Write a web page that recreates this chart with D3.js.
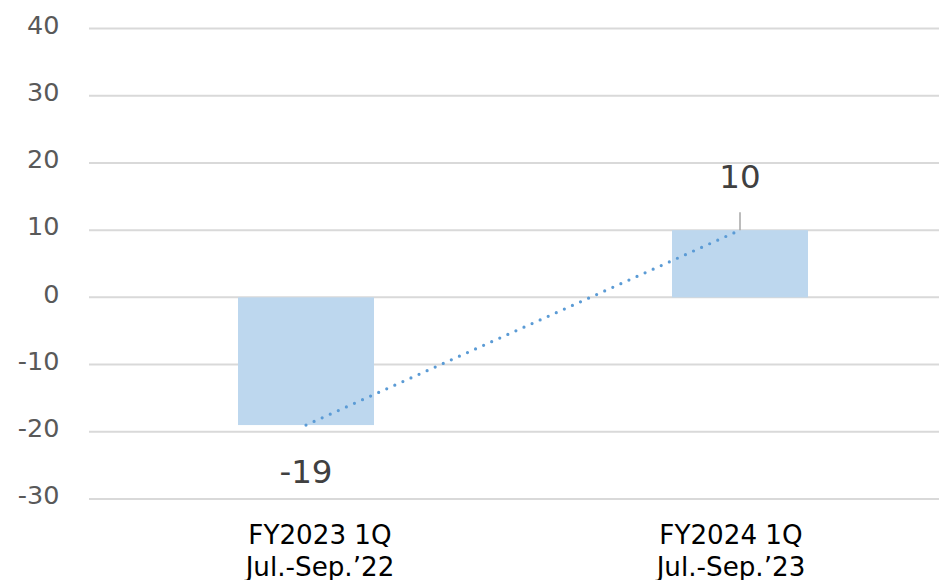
<!DOCTYPE html>
<html>
<head>
<meta charset="utf-8">
<script src="https://cdn.jsdelivr.net/npm/d3@7"></script>
<style>
  html, body { margin: 0; padding: 0; background: #fff; }
  svg { display: block; font-family: "DejaVu Sans", Verdana, sans-serif; }
</style>
</head>
<body>
<svg id="chart" width="939" height="580"></svg>
<script>
// Quarterly values
const categories = ["FY2023 1Q", "FY2024 1Q"];
const periods = ["Jul.-Sep.\u201922", "Jul.-Sep.\u201923"];
const values = [-19, 10];
const yTicks = [-30, -20, -10, 0, 10, 20, 30, 40];

const W = 939, H = 580;
const svg = d3.select("#chart");

const x = d3.scaleBand()
  .domain(categories)
  .range([89, 957])
  .paddingInner(0.6866)
  .paddingOuter(0.3433);

const y = d3.scaleLinear().domain([-30, 40]).range([499, 28.5]);

// Horizontal gridlines
svg.append("g")
  .selectAll("line")
  .data(yTicks)
  .join("line")
  .attr("x1", 89).attr("x2", W)
  .attr("y1", d => y(d)).attr("y2", d => y(d))
  .attr("stroke", "#d9d9d9")
  .attr("stroke-width", 2);

// Y tick labels
svg.append("g")
  .selectAll("text")
  .data(yTicks)
  .join("text")
  .attr("x", 59.5)
  .attr("y", d => y(d) + 5.3)
  .attr("text-anchor", "end")
  .attr("font-size", 25.5)
  .attr("fill", "#595959")
  .text(d => d);

// Bars
const data = categories.map((c, i) => ({ c, p: periods[i], v: values[i] }));
svg.append("g")
  .selectAll("rect")
  .data(data)
  .join("rect")
  .attr("x", d => x(d.c))
  .attr("width", x.bandwidth())
  .attr("y", d => y(Math.max(0, d.v)))
  .attr("height", d => Math.abs(y(d.v) - y(0)))
  .attr("fill", "#bdd7ee");

// Dotted connector between bar ends
const cx = d => x(d.c) + x.bandwidth() / 2;
svg.append("path")
  .datum(data)
  .attr("d", d3.line().x(cx).y(d => y(d.v)))
  .attr("fill", "none")
  .attr("stroke", "#5b9bd5")
  .attr("stroke-width", 3.2)
  .attr("stroke-linecap", "round")
  .attr("stroke-dasharray", "0 8.85");

// Leader line for the positive label
svg.append("g")
  .selectAll("line")
  .data(data.filter(d => d.v > 0))
  .join("line")
  .attr("x1", cx).attr("x2", cx)
  .attr("y1", d => y(d.v) - 18).attr("y2", d => y(d.v))
  .attr("stroke", "#a6a6a6")
  .attr("stroke-width", 1.5);

// Value labels
svg.append("g")
  .selectAll("text")
  .data(data)
  .join("text")
  .attr("x", cx)
  .attr("y", d => d.v >= 0 ? y(d.v) - 42 : y(d.v) + 58)
  .attr("text-anchor", "middle")
  .attr("font-size", 32.5)
  .attr("fill", "#404040")
  .text(d => d.v);

// Category labels (two lines)
const labelShift = [14, -9];
const cat = svg.append("g")
  .selectAll("text")
  .data(data)
  .join("text")
  .attr("text-anchor", "middle")
  .attr("font-size", 26.2)
  .attr("fill", "#000");
cat.append("tspan")
  .attr("x", (d, i) => cx(d) + labelShift[i])
  .attr("y", 544)
  .text(d => d.c);
cat.append("tspan")
  .attr("x", (d, i) => cx(d) + labelShift[i])
  .attr("y", 575.5)
  .text(d => d.p);
</script>
</body>
</html>
